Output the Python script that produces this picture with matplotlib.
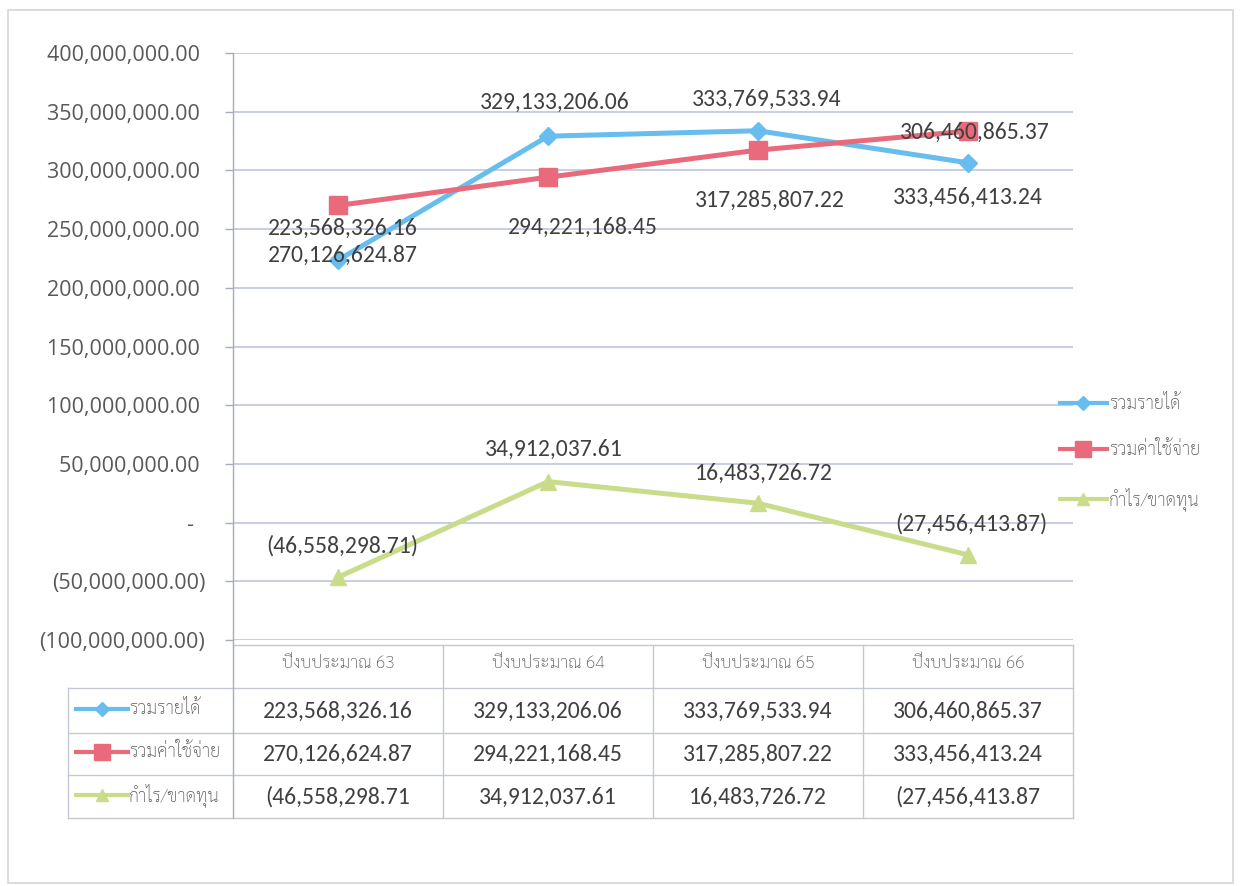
import matplotlib
matplotlib.use('Agg')
import matplotlib.pyplot as plt
from matplotlib.lines import Line2D
from matplotlib.patches import Rectangle
from matplotlib.ticker import FuncFormatter, MultipleLocator
from matplotlib.transforms import blended_transform_factory

# ---------------- data ----------------
categories = ["ปีงบประมาณ 63", "ปีงบประมาณ 64", "ปีงบประมาณ 65", "ปีงบประมาณ 66"]
series_names = ["รวมรายได้", "รวมค่าใช้จ่าย", "กำไร/ขาดทุน"]
revenue = [223568326.16, 329133206.06, 333769533.94, 306460865.37]
expense = [270126624.87, 294221168.45, 317285807.22, 333456413.24]
profit = [-46558298.71, 34912037.61, 16483726.72, -27456413.87]
# labels as printed on the chart (the chart's own label placement)
revenue_labels = ["223,568,326.16", "329,133,206.06", "333,769,533.94", "306,460,865.37"]
expense_labels = ["270,126,624.87", "294,221,168.45", "317,285,807.22", "333,456,413.24"]
profit_labels = ["(46,558,298.71)", "34,912,037.61", "16,483,726.72", "(27,456,413.87)"]
# data table texts (as printed, truncated in the original)
table_revenue = ["223,568,326.16", "329,133,206.06", "333,769,533.94", "306,460,865.37"]
table_expense = ["270,126,624.87", "294,221,168.45", "317,285,807.22", "333,456,413.24"]
table_profit = ["(46,558,298.71", "34,912,037.61", "16,483,726.72", "(27,456,413.87"]
y_min, y_max, y_step = -100000000, 400000000, 50000000

# ---------------- style ----------------
W, H = 1241, 886
BLUE = "#66BDEE"
RED = "#E96A7B"
GREEN = "#C9DC8A"
GRID = "#C9CDE3"
BORDER = "#C4C8D6"
TXT = "#404040"
TICK = "#595959"
NUM_FONT = ["Carlito", "DejaVu Sans"]
THAI_FONT = ["Sarabun", "Noto Sans Thai", "DejaVu Sans"]
AX_FONT = ["Open Sans", "DejaVu Sans"]


def fx(x):
    return x / W


def fy(y):
    return 1 - y / H


fig = plt.figure(figsize=(W / 100, H / 100), dpi=100)
fig.patch.set_facecolor("white")

# outer chart frame
fig.add_artist(Rectangle((fx(8), fy(883)), fx(1233) - fx(8), fy(10) - fy(883),
                         transform=fig.transFigure, fill=False,
                         edgecolor="#D6D6D6", linewidth=1.2))

ax = fig.add_axes([fx(233), fy(640), fx(1073) - fx(233), fy(53) - fy(640)])
ax.set_xlim(-0.5, 3.5)
ax.set_ylim(y_min, y_max)
for s in ["top", "right", "bottom"]:
    ax.spines[s].set_visible(False)
ax.spines["left"].set_color("#A8ACB8")
ax.spines["left"].set_linewidth(1.0)
ax.yaxis.set_major_locator(MultipleLocator(y_step))
ax.set_xticks([])


def yfmt(v, pos):
    if abs(v) < 1:
        return "-  "
    if v < 0:
        return "({:,.2f})".format(-v)
    return "{:,.2f} ".format(v)


ax.yaxis.set_major_formatter(FuncFormatter(yfmt))
ax.tick_params(axis="y", direction="out", length=6, width=1, color="#A8ACB8",
               pad=14, labelsize=15.5, labelcolor=TICK)
for lab in ax.get_yticklabels():
    lab.set_family(AX_FONT)
ax.grid(axis="y", color=GRID, linewidth=1.4)
ax.set_axisbelow(True)
x = list(range(len(categories)))

l1, = ax.plot(x, revenue, color=BLUE, lw=3.6, marker="D", ms=9, mfc=BLUE,
              mec=BLUE, label=series_names[0], zorder=3)
l2, = ax.plot(x, expense, color=RED, lw=3.6, marker="s", ms=13, mfc=RED,
              mec=RED, label=series_names[1], zorder=3)
l3, = ax.plot(x, profit, color=GREEN, lw=3.6, marker="^", ms=12, mfc=GREEN,
              mec=GREEN, label=series_names[2], zorder=3)

# data label offsets (pixels: dx, dy up)
off_rev = [(5, 32), (7, 34), (9, 31), (7, 30)]
off_exp = [(5, -50), (35, -50), (12, -50), (0, -66)]
off_pro = [(4, 31), (6, 32), (6, 30), (3, 31)]
for vals, labs, offs in [(revenue, revenue_labels, off_rev),
                         (expense, expense_labels, off_exp),
                         (profit, profit_labels, off_pro)]:
    for i, (v, t, (dx, dy)) in enumerate(zip(vals, labs, offs)):
        ax.annotate(t, (i, v), xytext=(dx * 0.72, dy * 0.72),
                    textcoords="offset points", ha="center", va="center",
                    fontsize=17, color=TXT, family=NUM_FONT, zorder=5)

# ---------------- legend (right) ----------------
leg_handles = [
    Line2D([], [], color=BLUE, lw=3, marker="D", ms=7, mfc=BLUE, mec=BLUE),
    Line2D([], [], color=RED, lw=3, marker="s", ms=11, mfc=RED, mec=RED),
    Line2D([], [], color=GREEN, lw=3, marker="^", ms=9, mfc=GREEN, mec=GREEN),
]
leg = fig.legend(handles=leg_handles, labels=series_names, loc="upper left",
                 bbox_to_anchor=(fx(1060), fy(395)), frameon=False,
                 borderpad=0, borderaxespad=0, handlelength=2.6,
                 handletextpad=0.1, labelspacing=1.55,
                 prop={"family": THAI_FONT, "size": 13, "weight": "light"})
for t in leg.get_texts():
    t.set_color("#595959")

# ---------------- data table ----------------
bt = blended_transform_factory(ax.transData, fig.transFigure)
row_edges = [640, 688, 733, 775, 818]
fig.add_artist(Line2D([fx(1073), fx(1073)], [fy(645), fy(818)], transform=fig.transFigure,
                      color=BORDER, lw=1.0))
for y in row_edges[1:]:
    fig.add_artist(Line2D([fx(68), fx(1073)], [fy(y), fy(y)],
                          transform=fig.transFigure, color=BORDER, lw=1.0))
fig.add_artist(Line2D([fx(233), fx(1073)], [fy(645), fy(645)],
                      transform=fig.transFigure, color=BORDER, lw=1.0))
fig.add_artist(Line2D([fx(68), fx(68)], [fy(688), fy(818)], transform=fig.transFigure,
                      color=BORDER, lw=1.0))
fig.add_artist(Line2D([fx(233), fx(233)], [fy(640), fy(818)], transform=fig.transFigure,
                      color="#A8ACB8", lw=1.0))
for b in [0.5, 1.5, 2.5]:
    fig.add_artist(Line2D([b, b], [fy(645), fy(818)], transform=bt,
                          color=BORDER, lw=1.0))

# header
for i, c in enumerate(categories):
    fig.text(i, fy(664), c, transform=bt, ha="center", va="center",
             fontsize=12.5, color="#595959", family=THAI_FONT, weight="light")

row_centers = [711, 754, 797]
for rc, row in zip(row_centers, [table_revenue, table_expense, table_profit]):
    for i, t in enumerate(row):
        fig.text(i, fy(rc), t, transform=bt, ha="center", va="center",
                 fontsize=17, color=TXT, family=NUM_FONT)

# row legend keys
for rc, name, col, mk, ms in zip(row_centers, series_names,
                                 [BLUE, RED, GREEN], ["D", "s", "^"], [7, 11, 9]):
    fig.add_artist(Line2D([fx(76), fx(128)], [fy(rc - 2), fy(rc - 2)],
                          transform=fig.transFigure, color=col, lw=3.0))
    fig.add_artist(Line2D([fx(102)], [fy(rc - 2)], transform=fig.transFigure,
                          color=col, marker=mk, ms=ms, mfc=col, mec=col, lw=0))
    fig.text(fx(129), fy(rc - 2), name, ha="left", va="center",
             fontsize=13, color="#595959", family=THAI_FONT, weight="light")

fig.savefig("out.png", dpi=100, facecolor="white")
